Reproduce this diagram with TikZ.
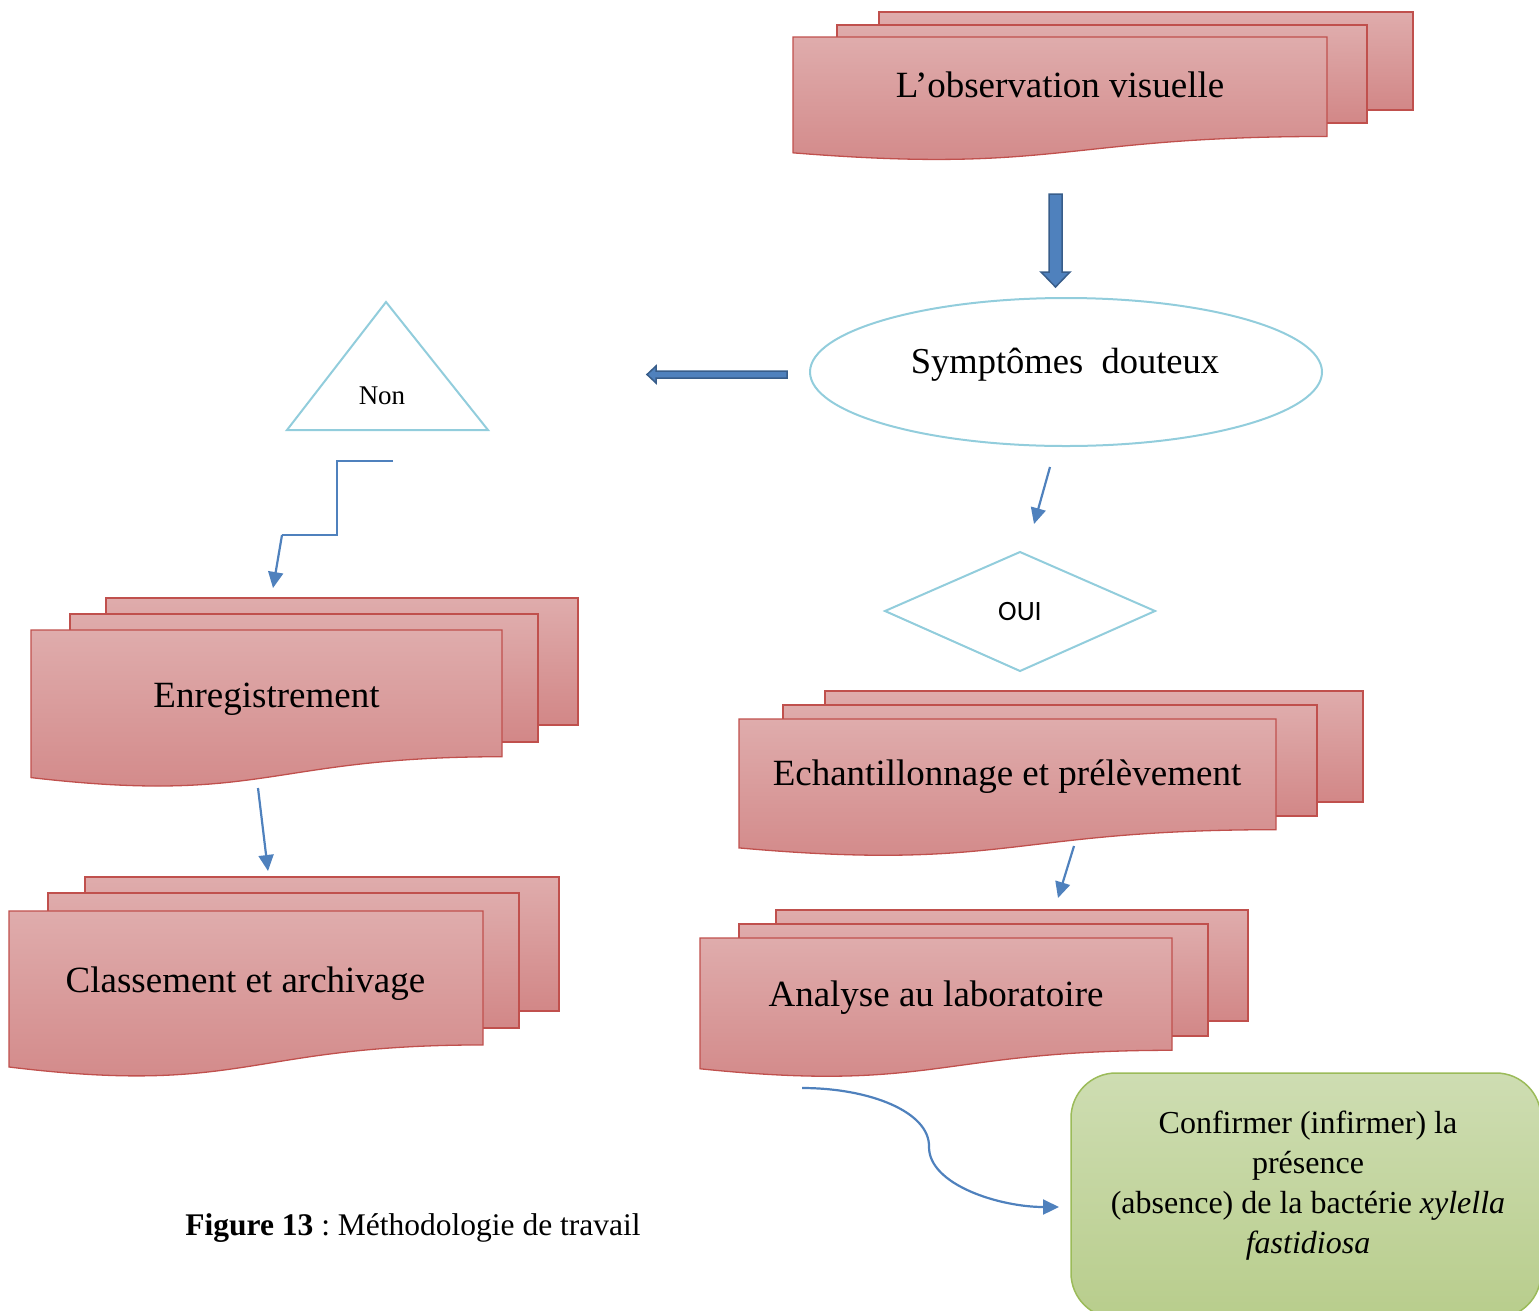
\documentclass[tikz,border=0pt]{standalone}
\usepackage{fontspec}
\setmainfont{Liberation Serif}
\newfontfamily\ouifont{Carlito}
\usetikzlibrary{arrows.meta,shapes.geometric}
\definecolor{docred}{RGB}{192,80,77}
\definecolor{pinktop}{RGB}{223,172,172}
\definecolor{pinkbot}{RGB}{210,135,135}
\definecolor{lblue}{RGB}{146,205,220}
\definecolor{abl}{RGB}{79,129,189}
\definecolor{abldark}{RGB}{56,93,138}
\definecolor{gtop}{RGB}{206,221,178}
\definecolor{gbot}{RGB}{184,205,140}
\definecolor{gline}{RGB}{155,187,89}
\frenchspacing
\tikzset{
  sheet/.style={draw=docred,line width=1.3pt,top color=pinktop,bottom color=pinkbot,line join=miter},
  outline/.style={draw=lblue,line width=2pt},
  conn/.style={draw=abl,line width=2.2pt,-{Triangle[length=16pt,width=15pt]}},
  blockarrow/.style={fill=abl,draw=abldark,line width=1.5pt},
  bigtxt/.style={anchor=base,inner sep=0pt,font=\fontsize{37}{44}\selectfont},
}
\newcommand\frontdoc[4]{%
  \path[sheet] (#1,#2) -- (#3,#2) -- (#3,{#2+0.802*#4})
    .. controls ({(#1+#3)/2},{#2+0.802*#4}) and ({(#1+#3)/2},{#2+1.1075*#4}) ..
    (#1,{#2+0.934*#4}) -- cycle;}
\begin{document}
\begin{tikzpicture}[x=1pt,y=-1pt]
\useasboundingbox (0,0) rectangle (1539,1310);
\clip (0,0) rectangle (1539,1310);

% L'observation visuelle
\path[sheet] (879,12) rectangle (1413,110);
\path[sheet] (837,25) rectangle (1367,123);
\frontdoc{793}{37}{1327}{124}
\node[bigtxt] (obs) at (1060,97) {L’observation visuelle};

% block arrow down
\path[blockarrow] (1049,194) -- (1062,194) -- (1062,272) -- (1070,272) -- (1055.5,287) -- (1041,272) -- (1049,272) -- cycle;

% ellipse
\node[draw=lblue,line width=2pt,ellipse,minimum width=512pt,minimum height=148pt,inner sep=0pt] (symell) at (1066,372) {};
\node[bigtxt,font=\fontsize{36.5}{43}\selectfont] (sym) at (1065,373) {Symptômes\ \ douteux};

% block arrow left
\path[blockarrow] (787,371) -- (656,371) -- (656,366) -- (647,374.5) -- (656,383) -- (656,378) -- (787,378) -- cycle;

% triangle Non
\path[outline] (386,302) -- (488,430) -- (287,430) -- cycle;
\node[anchor=base,inner sep=0pt,font=\fontsize{27}{32}\selectfont] (non) at (382,404) {Non};

% step connector
\coordinate (s0) at (393,461);
\coordinate (s1) at (337,461);
\coordinate (s2) at (337,535);
\coordinate (s3) at (282,535);
\coordinate (s4) at (273,588);
\draw[abl,line width=2pt] (s0) -- (s1) -- (s2) -- (s3);
\draw[conn] (s3) -- (s4);

% arrow ellipse -> OUI
\coordinate (e0) at (1050,467);
\coordinate (e1) at (1034,524);
\draw[conn] (e0) -- (e1);

% diamond OUI
\path[outline] (885,611) -- (1020,552) -- (1155,611) -- (1020,671) -- cycle;
\node[anchor=base,inner sep=0pt,font=\ouifont\fontsize{28}{33}\selectfont] (oui) at (1020,620) {OUI};

% Enregistrement
\path[sheet] (106,598) rectangle (578,725);
\path[sheet] (70,614) rectangle (538,742);
\frontdoc{31}{630}{502}{158}
\node[bigtxt] (enr) at (266.5,707) {Enregistrement};

% Classement
\path[sheet] (85,877) rectangle (559,1011);
\path[sheet] (48,893) rectangle (519,1028);
\frontdoc{9}{911}{483}{167}
\node[bigtxt] (cla) at (245.5,992) {Classement et archivage};

\coordinate (r0) at (258,788);
\coordinate (r1) at (268,871);
\draw[conn] (r0) -- (r1);

% Echantillonnage
\path[sheet] (825,691) rectangle (1363,802);
\path[sheet] (783,705) rectangle (1317,816);
\frontdoc{739}{719}{1276}{138}
\node[bigtxt] (ech) at (1007,785) {Echantillonnage et prélèvement};

% Analyse
\path[sheet] (776,910) rectangle (1248,1021);
\path[sheet] (739,924) rectangle (1208,1036);
\frontdoc{700}{938}{1172}{140}
\node[bigtxt] (ana) at (936,1006) {Analyse au laboratoire};

\coordinate (x0) at (1074,846);
\coordinate (x1) at (1058,898);
\draw[conn] (x0) -- (x1);

% green box
\path[draw=gline,line width=1.5pt,top color=gtop,bottom color=gbot,rounded corners=45pt] (1071,1073) rectangle (1541,1318);
\node[align=center,inner sep=0pt,font=\fontsize{32}{40}\selectfont] (res) at (1308,1186)
  {Confirmer (infirmer) la\\présence\\(absence) de la bactérie \textit{xylella}\\\textit{fastidiosa}};

% curved arrow
\coordinate (c0) at (802,1088);
\coordinate (c1) at (929,1147);
\coordinate (c2) at (1059,1207);
\draw[abl,line width=2.2pt] (c0) .. controls (870,1088) and (930,1112) .. (c1);
\draw[conn] (c1) .. controls (929,1185) and (1000,1207) .. (c2);

% caption
\node[anchor=base,inner sep=0pt,font=\fontsize{31.5}{38}\selectfont] (cap) at (413,1235) {\textbf{Figure 13} : Méthodologie de travail};
\end{tikzpicture}
\end{document}
